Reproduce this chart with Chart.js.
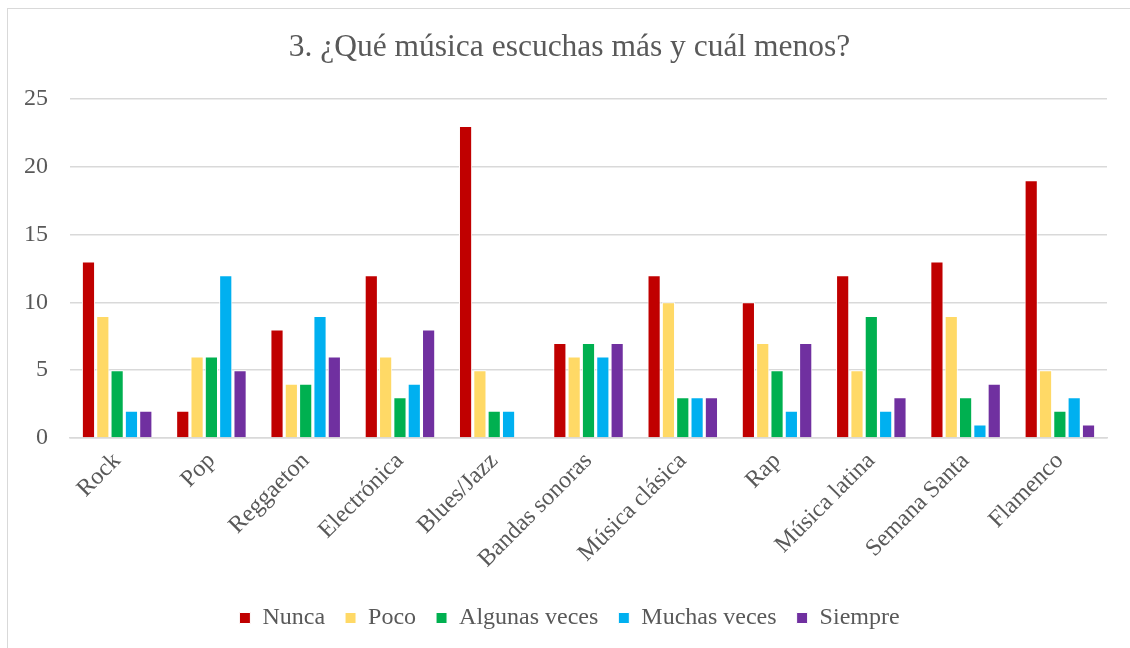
<!DOCTYPE html>
<html>
<head>
<meta charset="utf-8">
<script src="https://cdn.jsdelivr.net/npm/chart.js@4/dist/chart.umd.min.js"></script>
<style>
    html, body { margin: 0; padding: 0; background: #fff; overflow: hidden; }
    #wrap { position: relative; width: 1130px; height: 648px; }
    #frame {
        position: absolute; left: 7px; top: 8px; width: 1200px; height: 700px;
        border: 1.5px solid #d9d9d9; pointer-events: none;
    }
    canvas { position: absolute; left: 0; top: 0; }
</style>
</head>
<body>
<div id="wrap">
    <canvas id="chart" width="1130" height="648"></canvas>
    <div id="frame"></div>
</div>
<script>
const categories = ["Rock", "Pop", "Reggaeton", "Electrónica", "Blues/Jazz", "Bandas sonoras",
    "Música clásica", "Rap", "Música latina", "Semana Santa", "Flamenco"];
const nunca = [13, 2, 8, 12, 23, 7, 12, 10, 12, 13, 19];
const poco = [9, 6, 4, 6, 5, 6, 10, 7, 5, 9, 5];
const algunasVeces = [5, 6, 4, 3, 2, 7, 3, 5, 9, 3, 2];
const muchasVeces = [2, 12, 9, 4, 2, 6, 3, 2, 2, 1, 3];
const siempre = [2, 5, 6, 8, 0, 7, 3, 7, 3, 4, 1];
const yTicks = [0, 5, 10, 15, 20, 25];

const serif = "'Liberation Serif', 'Times New Roman', serif";
const grey = "#595959";

Chart.defaults.font.family = serif;
Chart.defaults.color = grey;

function makeSeries(label, data, color) {
    return {
        label: label,
        data: data,
        backgroundColor: color,
        borderColor: "#ffffff",
        borderWidth: 1,
        barPercentage: 0.92,
        categoryPercentage: 0.76
    };
}

const ctx = document.getElementById("chart");
new Chart(ctx, {
    type: "bar",
    data: {
        labels: categories,
        datasets: [
            makeSeries("Nunca", nunca, "#C00000"),
            makeSeries("Poco", poco, "#FFD966"),
            makeSeries("Algunas veces", algunasVeces, "#00B050"),
            makeSeries("Muchas veces", muchasVeces, "#00B0F0"),
            makeSeries("Siempre", siempre, "#7030A0")
        ]
    },
    options: {
        responsive: false,
        animation: false,
        layout: { padding: { left: 16, right: 7, top: 0, bottom: 8 } },
        plugins: {
            title: {
                display: true,
                text: "3. ¿Qué música escuchas más y cuál menos?",
                color: grey,
                font: { family: serif, size: 31.5, weight: "normal", lineHeight: 1.2 },
                padding: { top: 29, bottom: 32 }
            },
            legend: {
                position: "bottom",
                labels: {
                    color: grey,
                    font: { family: serif, size: 24 },
                    boxWidth: 11,
                    boxHeight: 11,
                    padding: 20
                }
            },
            tooltip: { enabled: false }
        },
        scales: {
            x: {
                grid: { display: false, drawTicks: false },
                border: { display: true, color: "#d9d9d9", width: 1.5 },
                ticks: {
                    color: grey,
                    font: { family: serif, size: 24 },
                    minRotation: 45,
                    maxRotation: 45,
                    padding: 9
                },
                afterFit: function (scale) { scale.height = 148; }
            },
            y: {
                min: 0,
                max: 25,
                afterBuildTicks: function (scale) {
                    scale.ticks = yTicks.map(function (v) { return { value: v }; });
                },
                grid: { color: "#d9d9d9", lineWidth: 1.5, drawTicks: false },
                border: { display: false },
                ticks: {
                    color: grey,
                    font: { family: serif, size: 24 },
                    padding: 22
                },
                afterFit: function (scale) { scale.width = 54; }
            },
            // empty strip on the right so the plot ends where the frame margin starts
            spacer: {
                type: "linear",
                position: "right",
                grid: { display: false, drawTicks: false },
                border: { display: false },
                ticks: { display: false },
                afterFit: function (scale) { scale.width = 16; }
            }
        }
    }
});
</script>
</body>
</html>
